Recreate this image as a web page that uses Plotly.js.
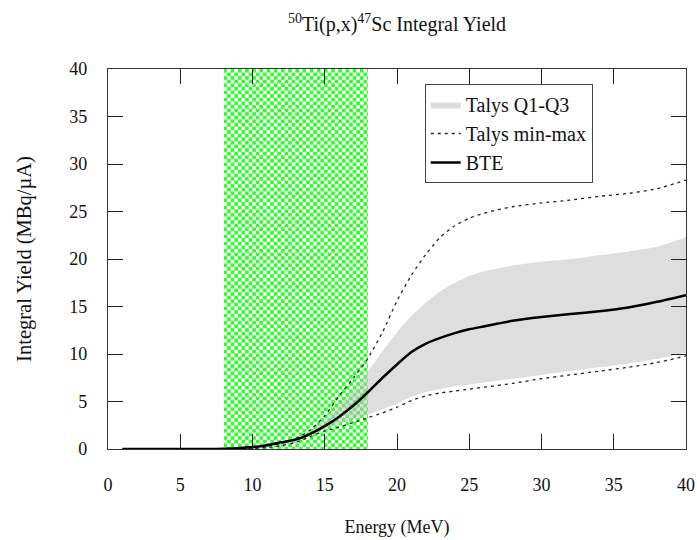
<!DOCTYPE html>
<html>
<head>
<meta charset="utf-8">
<script src="https://cdn.plot.ly/plotly-3.0.1.min.js"></script>
<style>html,body{margin:0;padding:0;background:#fff;}#chart{width:697px;height:540px;}</style>
</head>
<body>
<div id="chart"></div>
<script>
// ---- Data ----
var energy = [1, 3, 5, 7, 8, 9, 10, 11, 12, 13, 14, 15, 16, 17, 18, 19, 20, 21, 22, 23, 24, 25, 26, 27, 28, 30, 32, 34, 36, 38, 40];
var bte    = [0, 0, 0, 0, 0.02, 0.08, 0.2, 0.4, 0.7, 1.0, 1.6, 2.4, 3.4, 4.6, 6.0, 7.5, 8.9, 10.2, 11.1, 11.7, 12.2, 12.6, 12.9, 13.2, 13.5, 13.9, 14.2, 14.5, 14.9, 15.5, 16.2];
var talysMax = [0, 0, 0, 0, 0, 0.02, 0.1, 0.3, 0.6, 1.1, 2.0, 3.5, 5.6, 7.5, 9.6, 12.3, 15.6, 18.3, 20.5, 22.3, 23.5, 24.3, 24.8, 25.2, 25.5, 25.9, 26.2, 26.6, 26.9, 27.4, 28.3];
var talysMin = [0, 0, 0, 0, 0, 0.01, 0.05, 0.15, 0.35, 0.7, 1.3, 1.9, 2.3, 2.8, 3.3, 3.8, 4.4, 5.1, 5.6, 5.9, 6.1, 6.3, 6.5, 6.7, 6.9, 7.4, 7.8, 8.2, 8.6, 9.1, 9.8];
var talysQ3 = [0, 0, 0, 0, 0, 0.02, 0.1, 0.3, 0.55, 1.0, 1.9, 3.1, 4.6, 6.3, 8.2, 10.3, 12.3, 14.0, 15.4, 16.6, 17.5, 18.2, 18.7, 19.0, 19.3, 19.7, 20.0, 20.4, 20.8, 21.3, 22.3];
var talysQ1 = [0, 0, 0, 0, 0, 0.01, 0.05, 0.2, 0.4, 0.8, 1.4, 2.1, 2.6, 3.1, 3.6, 4.2, 4.8, 5.5, 6.0, 6.3, 6.6, 6.8, 7.0, 7.2, 7.4, 7.8, 8.2, 8.6, 9.0, 9.5, 10.1];
var bandRange = [8, 18];          // green checkered energy window (MeV)
var xTicks = [0, 5, 10, 15, 20, 25, 30, 35, 40];
var yTicks = [0, 5, 10, 15, 20, 25, 30, 35, 40];
var seriesNames = ["Talys Q1-Q3", "Talys min-max", "BTE"];

// ---- Chart ----
var FONT = "Liberation Serif";
var yTop = yTicks[yTicks.length - 1];

var checkerSvg = '<svg xmlns="http://www.w3.org/2000/svg" width="145" height="380" preserveAspectRatio="none">' +
  '<defs><pattern id="c" width="7.2" height="7.2" patternUnits="userSpaceOnUse">' +
  '<rect width="7.2" height="7.2" fill="#ffffff"/>' +
  '<rect x="0" y="0" width="3.6" height="3.6" fill="#2cff2c"/>' +
  '<rect x="3.6" y="3.6" width="3.6" height="3.6" fill="#2cff2c"/>' +
  '</pattern></defs><rect width="145" height="380" fill="url(#c)"/></svg>';
var checkerUri = "data:image/svg+xml;base64," + btoa(checkerSvg);

var traces = [
  {x: energy, y: talysQ1, mode: "lines", line: {width: 0, shape: "spline", smoothing: 0.6},
   showlegend: false, hoverinfo: "skip", legendgroup: "g1"},
  {x: energy, y: talysQ3, mode: "lines", fill: "tonexty", fillcolor: "rgba(190,190,190,0.5)",
   line: {width: 0, shape: "spline", smoothing: 0.6}, name: seriesNames[0], legendgroup: "g1"},
  {x: energy, y: talysMax, mode: "lines", line: {color: "#222", width: 1.3, dash: "3px,4px", shape: "spline", smoothing: 0.6},
   name: seriesNames[1], legendgroup: "g2"},
  {x: energy, y: talysMin, mode: "lines", line: {color: "#222", width: 1.3, dash: "3px,4px", shape: "spline", smoothing: 0.6},
   name: seriesNames[1], showlegend: false, legendgroup: "g2"},
  {x: energy, y: bte, mode: "lines", line: {color: "#000", width: 2.5, shape: "spline", smoothing: 0.6},
   name: seriesNames[2], legendgroup: "g3"}
];

var axisCommon = {
  showgrid: false, zeroline: false, showline: true, linecolor: "#333", linewidth: 1.2,
  mirror: "ticks", ticks: "inside", ticklen: 15, tickwidth: 1, tickcolor: "#222",
  tickfont: {family: FONT, size: 18, color: "#111"}
};

var layout = {
  width: 697, height: 540,
  margin: {l: 108, r: 11, t: 69, b: 91},
  paper_bgcolor: "#fff", plot_bgcolor: "#fff",
  font: {family: FONT, color: "#111"},
  title: {text: "<sup>50</sup>Ti(p,x)<sup>47</sup>Sc Integral Yield", x: 0.5, xref: "paper",
          y: 0.955, yref: "container", yanchor: "middle", font: {family: FONT, size: 20, color: "#111"}},
  xaxis: Object.assign({}, axisCommon, {range: [xTicks[0], xTicks[xTicks.length - 1]], tickvals: xTicks,
          ticklabelstandoff: 19,
          title: {text: "Energy (MeV)", standoff: 26, font: {family: FONT, size: 18, color: "#111"}}}),
  yaxis: Object.assign({}, axisCommon, {range: [yTicks[0], yTop], tickvals: yTicks,
          ticklabelstandoff: 16,
          title: {text: "Integral Yield (MBq/µA)", standoff: 32, font: {family: FONT, size: 20.5, color: "#111"}}}),
  legend: {x: 0.548, y: 0.9605, xanchor: "left", yanchor: "top", bgcolor: "#fff",
           bordercolor: "#444", borderwidth: 1, font: {family: FONT, size: 20, color: "#111"},
           traceorder: "grouped", tracegroupgap: 0, entrywidth: 236, entrywidthmode: "pixels"},
  images: [{source: checkerUri, xref: "x", yref: "y", x: bandRange[0], y: yTop,
            sizex: bandRange[1] - bandRange[0], sizey: yTop - yTicks[0],
            xanchor: "left", yanchor: "top", sizing: "stretch", layer: "below"}],
  showlegend: true
};

Plotly.newPlot("chart", traces, layout, {displayModeBar: false, staticPlot: true});
</script>
</body>
</html>
